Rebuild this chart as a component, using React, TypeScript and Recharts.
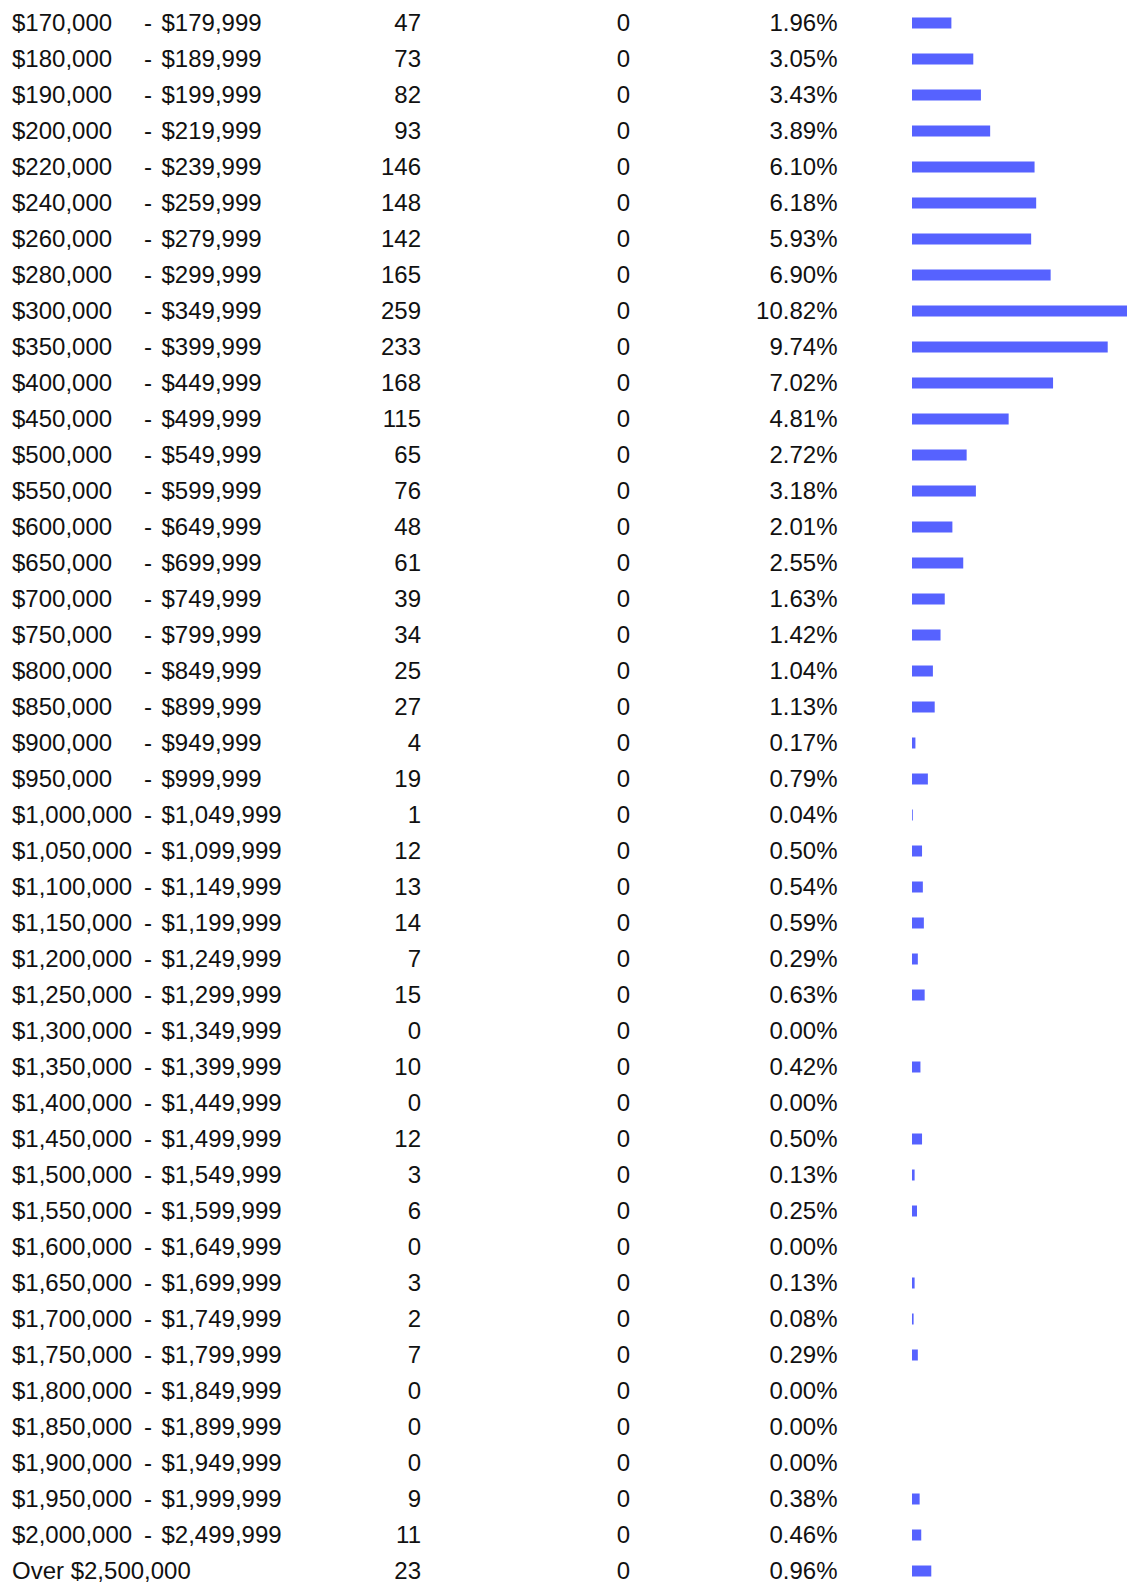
import React from "react";
import { BarChart, Bar, XAxis, YAxis } from "recharts";

const lows = [
  "$170,000", "$180,000", "$190,000", "$200,000", "$220,000", "$240,000",
  "$260,000", "$280,000", "$300,000", "$350,000", "$400,000", "$450,000",
  "$500,000", "$550,000", "$600,000", "$650,000", "$700,000", "$750,000",
  "$800,000", "$850,000", "$900,000", "$950,000", "$1,000,000", "$1,050,000",
  "$1,100,000", "$1,150,000", "$1,200,000", "$1,250,000", "$1,300,000",
  "$1,350,000", "$1,400,000", "$1,450,000", "$1,500,000", "$1,550,000",
  "$1,600,000", "$1,650,000", "$1,700,000", "$1,750,000", "$1,800,000",
  "$1,850,000", "$1,900,000", "$1,950,000", "$2,000,000", "Over $2,500,000",
];

const highs = [
  "$179,999", "$189,999", "$199,999", "$219,999", "$239,999", "$259,999",
  "$279,999", "$299,999", "$349,999", "$399,999", "$449,999", "$499,999",
  "$549,999", "$599,999", "$649,999", "$699,999", "$749,999", "$799,999",
  "$849,999", "$899,999", "$949,999", "$999,999", "$1,049,999", "$1,099,999",
  "$1,149,999", "$1,199,999", "$1,249,999", "$1,299,999", "$1,349,999",
  "$1,399,999", "$1,449,999", "$1,499,999", "$1,549,999", "$1,599,999",
  "$1,649,999", "$1,699,999", "$1,749,999", "$1,799,999", "$1,849,999",
  "$1,899,999", "$1,949,999", "$1,999,999", "$2,499,999", "",
];

const counts = [
  47, 73, 82, 93, 146, 148, 142, 165, 259, 233, 168, 115, 65, 76, 48, 61, 39,
  34, 25, 27, 4, 19, 1, 12, 13, 14, 7, 15, 0, 10, 0, 12, 3, 6, 0, 3, 2, 7, 0,
  0, 0, 9, 11, 23,
];

const others = [
  0, 0, 0, 0, 0, 0, 0, 0, 0, 0, 0, 0, 0, 0, 0, 0, 0, 0, 0, 0, 0, 0, 0, 0, 0,
  0, 0, 0, 0, 0, 0, 0, 0, 0, 0, 0, 0, 0, 0, 0, 0, 0, 0, 0,
];

const percents = [
  1.96, 3.05, 3.43, 3.89, 6.1, 6.18, 5.93, 6.9, 10.82, 9.74, 7.02, 4.81, 2.72,
  3.18, 2.01, 2.55, 1.63, 1.42, 1.04, 1.13, 0.17, 0.79, 0.04, 0.5, 0.54, 0.59,
  0.29, 0.63, 0.0, 0.42, 0.0, 0.5, 0.13, 0.25, 0.0, 0.13, 0.08, 0.29, 0.0, 0.0,
  0.0, 0.38, 0.46, 0.96,
];

const data = lows.map((low, i) => ({
  low,
  high: highs[i],
  count: counts[i],
  other: others[i],
  percent: percents[i],
}));

const font = {
  fontFamily: "'Liberation Sans', Arial, sans-serif",
  fontSize: 24,
  fill: "#111",
};

// draws every text column of a row at the y the category axis gives it
const RowTick = (props: any) => {
  const { y, payload } = props;
  const row = data[payload.index];
  if (!row) return null;
  const dy = 8.5;
  return (
    <g>
      <text x={12} y={y} dy={dy} textAnchor="start" {...font}>
        {row.low}
      </text>
      {row.high && (
        <>
          <text x={144} y={y} dy={dy} textAnchor="start" {...font}>
            -
          </text>
          <text x={161.5} y={y} dy={dy} textAnchor="start" {...font}>
            {row.high}
          </text>
        </>
      )}
      <text x={421} y={y} dy={dy} textAnchor="end" {...font}>
        {row.count}
      </text>
      <text x={630} y={y} dy={dy} textAnchor="end" {...font}>
        {row.other}
      </text>
      <text x={837.5} y={y} dy={dy} textAnchor="end" {...font}>
        {row.percent.toFixed(2) + "%"}
      </text>
    </g>
  );
};

export default function App() {
  return (
    <div
      style={{
        position: "fixed",
        top: 0,
        left: 0,
        width: 1127,
        height: 1583,
        overflow: "hidden",
        background: "#fff",
      }}
    >
      <BarChart
        width={1127}
        height={1600}
        data={data}
        layout="vertical"
        margin={{ top: 4.5, right: 0, bottom: 11.5, left: 0 }}
      >
        <XAxis type="number" hide domain={[0, 10.7]} allowDataOverflow />
        <YAxis
          type="category"
          dataKey="low"
          width={912}
          interval={0}
          axisLine={false}
          tickLine={false}
          tick={<RowTick />}
        />
        <Bar
          dataKey="percent"
          fill="#5662ff"
          barSize={11}
          isAnimationActive={false}
        />
      </BarChart>
    </div>
  );
}
